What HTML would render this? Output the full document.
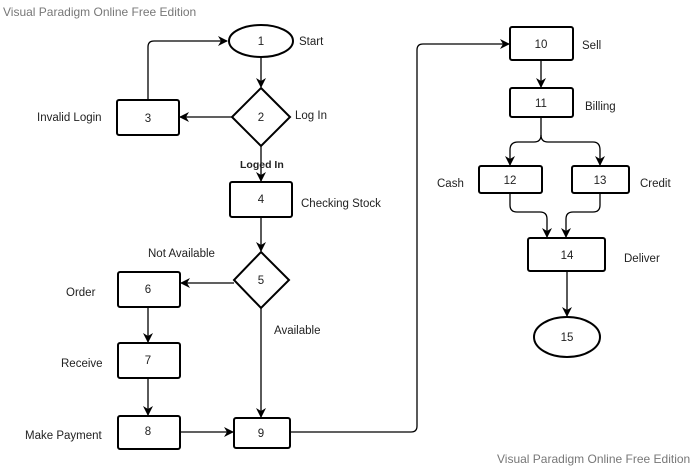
<!DOCTYPE html>
<html><head><meta charset="utf-8"><style>
html,body{margin:0;padding:0;background:#fff;}
svg{display:block;}
text{font-family:"Liberation Sans","DejaVu Sans",sans-serif;font-size:11.5px;fill:#222;}
.n{text-anchor:middle;}
.wm{fill:#777;font-size:12px;}
</style></head><body>
<svg width="696" height="469" viewBox="0 0 696 469" xmlns="http://www.w3.org/2000/svg">
<defs>
<marker id="a" markerWidth="10" markerHeight="10" refX="9" refY="5" orient="auto" markerUnits="userSpaceOnUse">
<path d="M0,0 L10,5 L0,10 L3,5 z" fill="#000"/></marker>
</defs>
<text class="wm" x="3" y="16">Visual Paradigm Online Free Edition</text>
<text class="wm" x="497" y="463">Visual Paradigm Online Free Edition</text>
<g fill="none" stroke="#000" stroke-width="1.3">
<path d="M261 57 V87" marker-end="url(#a)"/>
<path d="M232 117 H180" marker-end="url(#a)"/>
<path d="M148 100 V47 Q148 41 154 41 H227" marker-end="url(#a)"/>
<path d="M261 146 V181" marker-end="url(#a)"/>
<path d="M261 217 V251" marker-end="url(#a)"/>
<path d="M234 283 H181" marker-end="url(#a)"/>
<path d="M148 307 V342" marker-end="url(#a)"/>
<path d="M148 378 V415" marker-end="url(#a)"/>
<path d="M180 432 H233" marker-end="url(#a)"/>
<path d="M261 308 V417" marker-end="url(#a)"/>
<path d="M290 432 H411 Q417 432 417 426 V50 Q417 44 423 44 H509" marker-end="url(#a)"/>
<path d="M541 60 V87" marker-end="url(#a)"/>
<path d="M541 117 V135 Q541 142 534 142 H518 Q510 142 510 150 V165" marker-end="url(#a)"/>
<path d="M541 135 Q541 142 548 142 H593 Q600 142 600 150 V165" marker-end="url(#a)"/>
<path d="M510 193 V205 Q510 212 517 212 H540 Q547 212 547 219 V237" marker-end="url(#a)"/>
<path d="M600 193 V205 Q600 212 593 212 H573 Q566 212 566 219 V237" marker-end="url(#a)"/>
<path d="M567 271 V316" marker-end="url(#a)"/>
</g>
<g fill="#fff" stroke="#000" stroke-width="2">
<ellipse cx="261" cy="41" rx="32" ry="16"/>
<polygon points="261,88 290,117 261,146 232,117"/>
<rect x="117" y="100" width="62" height="35" rx="2"/>
<rect x="230" y="182" width="62" height="35" rx="2"/>
<polygon points="261,252 289,280 261,308 234,280"/>
<rect x="118" y="272" width="62" height="35" rx="2"/>
<rect x="118" y="343" width="62" height="35" rx="2"/>
<rect x="118" y="416" width="62" height="33" rx="2"/>
<rect x="234" y="418" width="56" height="30" rx="2"/>
<rect x="510" y="27" width="63" height="33" rx="2"/>
<rect x="510" y="88" width="63" height="29" rx="2"/>
<rect x="479" y="166" width="63" height="27" rx="2"/>
<rect x="572" y="166" width="57" height="27" rx="2"/>
<rect x="528" y="238" width="77" height="33" rx="2"/>
<ellipse cx="567" cy="337" rx="33" ry="20"/>
</g>
<g class="n">
<text class="n" x="261" y="45">1</text>
<text class="n" x="261" y="121">2</text>
<text class="n" x="148" y="122">3</text>
<text class="n" x="261" y="203">4</text>
<text class="n" x="261" y="284">5</text>
<text class="n" x="148" y="293">6</text>
<text class="n" x="148" y="364">7</text>
<text class="n" x="148" y="435">8</text>
<text class="n" x="261" y="437">9</text>
<text class="n" x="541" y="48">10</text>
<text class="n" x="541" y="107">11</text>
<text class="n" x="510" y="184">12</text>
<text class="n" x="600" y="184">13</text>
<text class="n" x="567" y="259">14</text>
<text class="n" x="567" y="341">15</text>
</g>
<text x="299" y="45">Start</text>
<text x="295" y="119">Log In</text>
<text x="37" y="121">Invalid Login</text>
<text x="240" y="168" style="font-weight:bold;font-size:10.5px">Loged In</text>
<text x="301" y="207">Checking Stock</text>
<text x="148" y="257">Not Available</text>
<text x="66" y="296">Order</text>
<text x="274" y="334">Available</text>
<text x="61" y="367">Receive</text>
<text x="25" y="439">Make Payment</text>
<text x="582" y="49">Sell</text>
<text x="585" y="110">Billing</text>
<text x="437" y="187">Cash</text>
<text x="640" y="187">Credit</text>
<text x="624" y="262">Deliver</text>
</svg>
</body></html>
